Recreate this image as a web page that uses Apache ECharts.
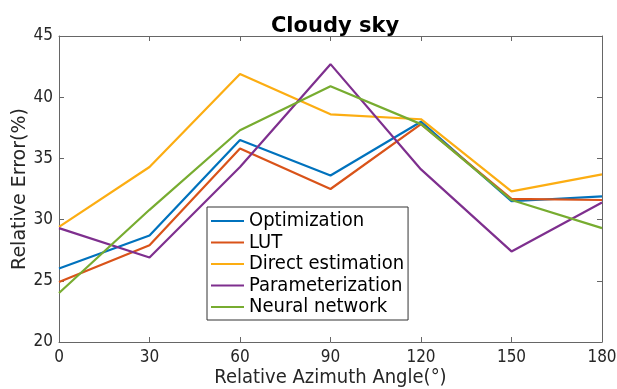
<!DOCTYPE html>
<html>
<head>
<meta charset="utf-8">
<script src="https://cdn.jsdelivr.net/npm/echarts@6/dist/echarts.min.js"></script>
<style>
  html, body { margin: 0; padding: 0; background: #fff; }
  #chart { width: 617px; height: 389px; }
</style>
</head>
<body>
<div id="chart"></div>
<script>
// Relative azimuth angles (degrees)
const angles = [0, 30, 60, 90, 120, 150, 180];

// Relative error (%) of each retrieval method
const optimization     = [26.0, 28.7, 36.5, 33.6, 38.0, 31.5, 31.9];
const lut              = [24.9, 27.9, 35.8, 32.5, 37.8, 31.7, 31.6];
const directEstimation = [29.4, 34.3, 41.9, 38.6, 38.2, 32.3, 33.7];
const parameterization = [29.3, 26.9, 34.3, 42.7, 34.1, 27.4, 31.4];
const neuralNetwork    = [24.0, 30.8, 37.3, 40.9, 37.8, 31.6, 29.3];

const seriesNames  = ['Optimization', 'LUT', 'Direct estimation', 'Parameterization', 'Neural network'];
const seriesValues = [optimization, lut, directEstimation, parameterization, neuralNetwork];
const seriesColors = ['#0072BD', '#D95319', '#FCAD12', '#7E2F8E', '#77AC30'];

const axisColor = '#666666';
const textColor = '#262626';
const font = 'DejaVu Sans';
const narrowFont = "'DejaVu Sans Condensed', 'DejaVu Sans'";

const chart = echarts.init(document.getElementById('chart'), null, { renderer: 'canvas' });

const boxAxis = (extra) => Object.assign({
  type: 'value',
  axisLine: { show: true, onZero: false, lineStyle: { color: axisColor, width: 1 } },
  axisTick: { show: true, inside: true, length: 5, lineStyle: { color: axisColor } },
  splitLine: { show: false },
  axisLabel: { show: false },
  nameMoveOverlap: false
}, extra);

chart.setOption({
  animation: false,
  backgroundColor: '#ffffff',
  title: {
    text: 'Cloudy sky',
    left: 330,
    textAlign: 'center',
    top: 11,
    textStyle: { fontFamily: font, fontWeight: 'bold', fontSize: 21, color: '#000' }
  },
  grid: {
    left: 59, right: 15, top: 36, bottom: 47,
    containLabel: false,
    outerBoundsMode: 'none'
  },
  legend: {
    orient: 'vertical',
    left: 207,
    top: 207,
    padding: [4, 4, 3, 4],
    itemGap: 1.5,
    itemWidth: 33,
    itemHeight: 14,
    backgroundColor: '#ffffff',
    borderColor: '#333333',
    borderWidth: 1,
    borderRadius: 0,
    textStyle: { fontFamily: narrowFont, fontSize: 20, lineHeight: 20, color: '#000' },
    data: seriesNames.map(n => ({ name: n, icon: 'path://M0,0 L33,0 L33,2.2 L0,2.2 Z' }))
  },
  xAxis: [
    boxAxis({
      min: 0, max: 180, interval: 30,
      position: 'bottom',
      name: 'Relative Azimuth Angle(°)',
      nameLocation: 'middle',
      nameGap: 26,
      nameTextStyle: { fontFamily: narrowFont, fontSize: 20, color: textColor },
      axisLabel: { show: true, margin: 7, fontFamily: narrowFont, fontSize: 17, color: textColor }
    }),
    boxAxis({ min: 0, max: 180, interval: 30, position: 'top' })
  ],
  yAxis: [
    boxAxis({
      min: 20, max: 45, interval: 5,
      position: 'left',
      name: 'Relative Error(%)',
      nameLocation: 'middle',
      nameGap: 29,
      nameTextStyle: { fontFamily: font, fontSize: 19, color: textColor },
      axisLabel: { show: true, margin: 6, fontFamily: narrowFont, fontSize: 17, color: textColor }
    }),
    boxAxis({ min: 20, max: 45, interval: 5, position: 'right' })
  ],
  series: seriesNames.map((name, i) => ({
    name: name,
    type: 'line',
    xAxisIndex: 0,
    yAxisIndex: 0,
    data: angles.map((a, k) => [a, seriesValues[i][k]]),
    symbol: 'none',
    lineStyle: { width: 2.2, color: seriesColors[i] },
    itemStyle: { color: seriesColors[i] },
    z: 2 + i
  }))
});
</script>
</body>
</html>
